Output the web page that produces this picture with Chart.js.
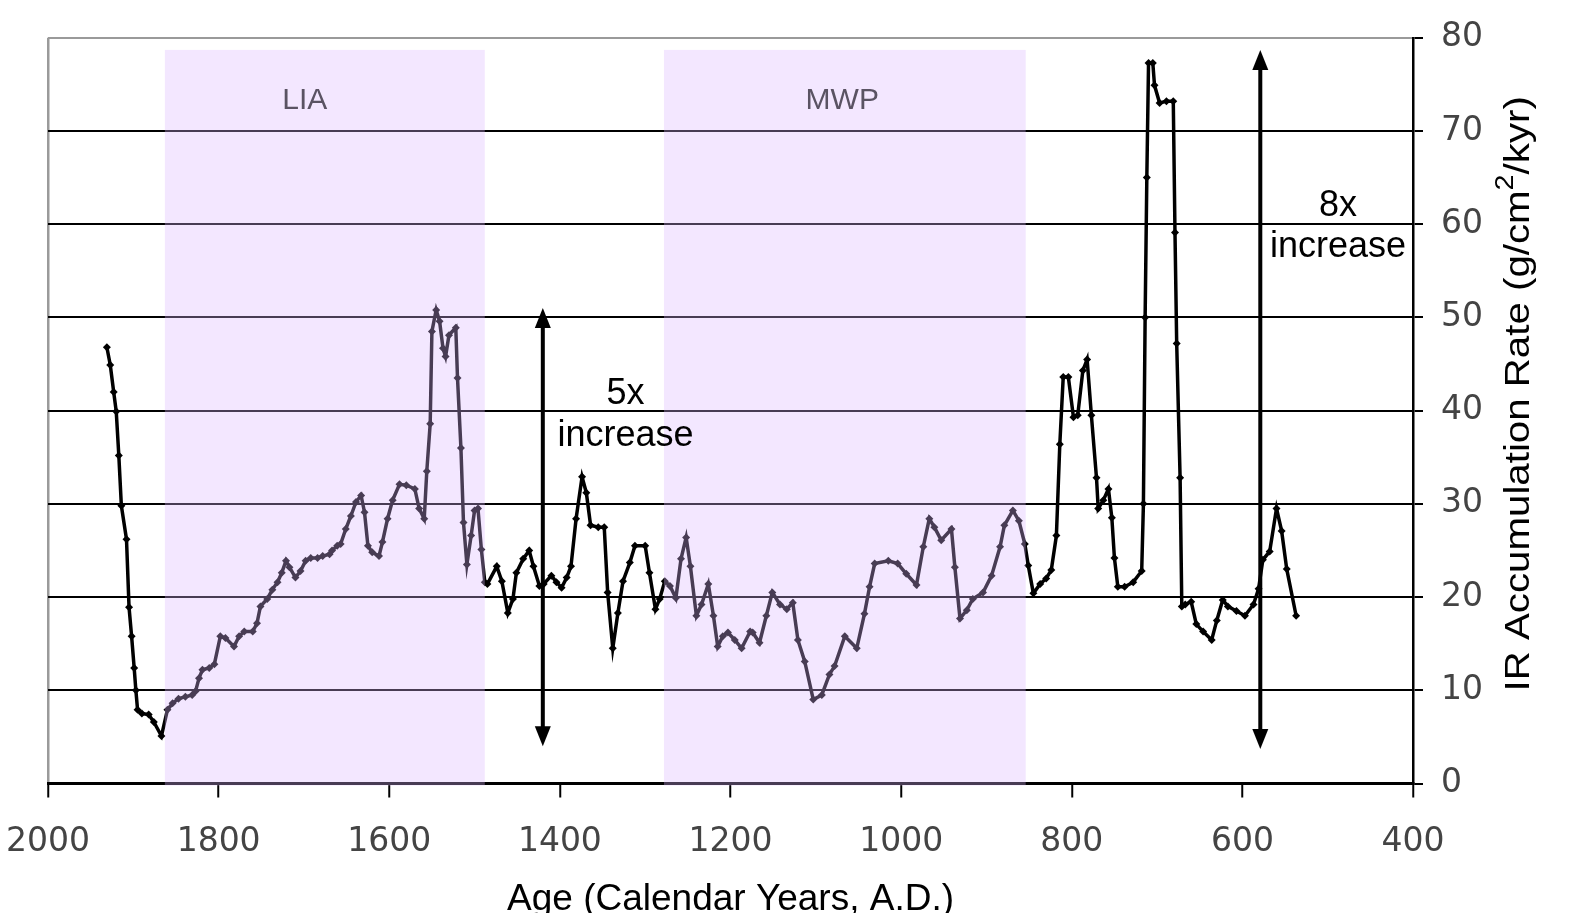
<!DOCTYPE html>
<html>
<head>
<meta charset="utf-8">
<script src="https://cdn.jsdelivr.net/npm/chart.js@4.4.1/dist/chart.umd.min.js"></script>
<style>
  html, body { margin: 0; padding: 0; background: #fff; }
</style>
</head>
<body>
<canvas id="myChart" width="1577" height="913"></canvas>
<script>
// IR accumulation rate vs calendar age
const years = [
  1931, 1927, 1923, 1920, 1917, 1914, 1908, 1905, 1902, 1899, 1897, 1895, 1890, 1882, 1876, 1867,
  1860, 1854, 1847, 1839, 1831, 1827, 1823, 1819, 1811, 1805, 1798, 1792, 1782, 1776, 1770, 1760,
  1755, 1751, 1743, 1737, 1731, 1726, 1721, 1717, 1710, 1704, 1698, 1692, 1684, 1678, 1670, 1667,
  1661, 1657, 1651, 1645, 1639, 1633, 1629, 1625, 1620, 1612, 1608, 1602, 1596, 1588, 1580, 1570,
  1565, 1559, 1556, 1552, 1550, 1545, 1541, 1537, 1534, 1530, 1522, 1520, 1516, 1513, 1509, 1504,
  1500, 1496, 1492, 1488, 1485, 1474, 1468, 1461, 1455, 1451, 1443, 1436, 1431, 1424, 1419, 1410,
  1404, 1398, 1392, 1387, 1381, 1374, 1369, 1364, 1355, 1348, 1344, 1338, 1332, 1326, 1318, 1312,
  1300, 1295, 1288, 1283, 1277, 1271, 1264, 1258, 1252, 1247, 1240, 1234, 1226, 1220, 1215, 1209,
  1203, 1195, 1187, 1177, 1174, 1166, 1158, 1151, 1142, 1134, 1127, 1121, 1113, 1103, 1093, 1084,
  1078, 1066, 1052, 1043, 1037, 1031, 1015, 1004, 994, 982, 974, 967, 961, 953, 941, 937,
  931, 923, 916, 904, 894, 884, 879, 869, 862, 855, 851, 845, 837, 830, 824, 818,
  814, 810, 804, 798, 793, 787, 782, 777, 771, 769, 763, 757, 753, 750, 746, 738,
  728, 718, 716, 714, 712, 710, 705, 703, 697, 689, 681, 679, 677, 673, 671, 667,
  660, 654, 646, 636, 630, 623, 617, 607, 597, 587, 581, 576, 568, 560, 554, 548, 537
];
const rates = [
  46.8, 44.9, 42.0, 39.9, 35.2, 29.8, 26.2, 18.9, 15.8, 12.4, 10.0, 7.9, 7.5, 7.4, 6.6, 5.1,
  7.9, 8.6, 9.1, 9.3, 9.5, 9.9, 11.3, 12.2, 12.4, 12.8, 15.8, 15.6, 14.7, 15.8, 16.3, 16.3,
  17.2, 19.0, 19.8, 20.8, 21.6, 22.6, 23.9, 23.2, 22.1, 22.8, 23.9, 24.2, 24.2, 24.4, 24.6, 25.0,
  25.5, 25.7, 27.3, 28.7, 30.2, 30.9, 29.1, 25.5, 24.8, 24.4, 25.9, 28.4, 30.4, 32.1, 32.0, 31.6,
  29.5, 28.4, 33.5, 38.6, 48.5, 50.8, 49.6, 46.7, 45.8, 48.1, 48.9, 43.5, 36.0, 28.0, 23.5, 26.6,
  29.3, 29.5, 25.1, 21.6, 21.4, 23.3, 21.7, 18.3, 19.8, 22.6, 24.1, 25.0, 23.3, 21.2, 21.4, 22.3,
  21.6, 21.0, 22.1, 23.3, 28.4, 32.9, 31.2, 27.7, 27.5, 27.5, 20.5, 14.5, 18.3, 21.7, 23.7, 25.5,
  25.5, 22.6, 18.7, 19.8, 21.7, 21.2, 19.9, 24.1, 26.4, 23.3, 18.0, 19.2, 21.4, 18.0, 14.7, 15.8,
  16.2, 15.4, 14.5, 16.3, 16.2, 15.1, 18.0, 20.5, 19.2, 18.7, 19.4, 15.4, 13.1, 9.0, 9.5, 11.7,
  12.6, 15.8, 14.5, 18.2, 21.1, 23.6, 23.9, 23.6, 22.5, 21.3, 25.4, 28.4, 27.5, 26.1, 27.3, 23.2,
  17.7, 18.6, 19.8, 20.5, 22.3, 25.4, 27.7, 29.3, 28.2, 25.7, 23.4, 20.4, 21.4, 22.0, 22.9, 26.6,
  36.4, 43.6, 43.6, 39.3, 39.5, 44.3, 45.5, 39.5, 32.8, 29.5, 30.4, 31.6, 28.5, 24.2, 21.1, 21.1,
  21.6, 22.8, 30.0, 50.0, 65.0, 77.3, 77.3, 74.9, 73.0, 73.2, 73.2, 59.1, 47.2, 32.8, 19.0, 19.2,
  19.5, 17.1, 16.3, 15.4, 17.5, 19.7, 19.0, 18.5, 18.0, 19.2, 20.9, 24.0, 24.9, 29.5, 27.1, 23.0, 18.0
];

// shaded climate periods (calendar years)
const periodNames = ['LIA', 'MWP'];
const periodFrom = [1863, 1278];
const periodTo = [1488, 854];
const periodTop = 78.7;
const periodLabelYear = [1699, 1069];
const periodLabelRate = 73.2;

// "Nx increase" arrows
const arrowYear = [1420, 579];
const arrowLow = [4.0, 3.7];
const arrowHigh = [51.0, 78.7];
const noteText = ['5x', '8x'];
const noteYear = [1323, 488];
const noteRate = [40.7, 60.9];
const noteRate2 = [36.2, 56.5];

const overlays = {
  id: 'overlays',
  afterDatasetsDraw(chart) {
    const ctx = chart.ctx;
    const x = chart.scales.x, y = chart.scales.y;
    ctx.save();
    // period shading sits on top of the line, tinting it
    ctx.fillStyle = 'rgba(218,182,255,0.33)';
    for (let i = 0; i < periodNames.length; i++) {
      const x1 = x.getPixelForValue(periodFrom[i]);
      const x2 = x.getPixelForValue(periodTo[i]);
      const top = y.getPixelForValue(periodTop);
      const bot = y.getPixelForValue(0) + 2;
      ctx.fillRect(x1, top, x2 - x1, bot - top);
    }
    ctx.fillStyle = '#5a5363';
    ctx.font = '30px "Liberation Sans"';
    ctx.textAlign = 'center';
    ctx.textBaseline = 'middle';
    for (let i = 0; i < periodNames.length; i++) {
      ctx.fillText(periodNames[i], x.getPixelForValue(periodLabelYear[i]), y.getPixelForValue(periodLabelRate));
    }

    // arrows
    ctx.strokeStyle = '#000';
    ctx.fillStyle = '#000';
    ctx.lineWidth = 4;
    for (let i = 0; i < arrowYear.length; i++) {
      const ax = x.getPixelForValue(arrowYear[i]);
      const yTop = y.getPixelForValue(arrowHigh[i]);
      const yBot = y.getPixelForValue(arrowLow[i]);
      ctx.beginPath();
      ctx.moveTo(ax, yTop + 14);
      ctx.lineTo(ax, yBot - 14);
      ctx.stroke();
      ctx.beginPath();
      ctx.moveTo(ax, yTop);
      ctx.lineTo(ax - 8, yTop + 20);
      ctx.lineTo(ax + 8, yTop + 20);
      ctx.closePath();
      ctx.fill();
      ctx.beginPath();
      ctx.moveTo(ax, yBot);
      ctx.lineTo(ax - 8, yBot - 20);
      ctx.lineTo(ax + 8, yBot - 20);
      ctx.closePath();
      ctx.fill();
    }
    ctx.font = '36px "Liberation Sans"';
    ctx.textBaseline = 'alphabetic';
    for (let i = 0; i < noteText.length; i++) {
      const nx = x.getPixelForValue(noteYear[i]);
      ctx.fillText(noteText[i], nx, y.getPixelForValue(noteRate[i]));
      ctx.fillText('increase', nx, y.getPixelForValue(noteRate2[i]));
    }
    ctx.restore();
  },
  afterDraw(chart) {
    // right-hand axis title reading bottom to top, with superscript
    const ctx = chart.ctx;
    const area = chart.chartArea;
    const part1 = 'IR Accumulation Rate (g/cm';
    const part2 = '/kyr)';
    ctx.save();
    ctx.translate(area.right + 106, area.top + 356);
    ctx.rotate(-Math.PI / 2);
    ctx.scale(1.15, 1);
    ctx.fillStyle = '#000';
    ctx.textBaseline = 'middle';
    ctx.textAlign = 'left';
    ctx.font = '35px "Liberation Sans"';
    const w1 = ctx.measureText(part1).width;
    const w3 = ctx.measureText(part2).width;
    ctx.font = '25px "Liberation Sans"';
    const w2 = ctx.measureText('2').width;
    let sx = -(w1 + w2 + w3) / 2;
    ctx.font = '35px "Liberation Sans"';
    ctx.fillText(part1, sx, 0);
    sx += w1;
    ctx.font = '25px "Liberation Sans"';
    ctx.fillText('2', sx, -13);
    sx += w2;
    ctx.font = '35px "Liberation Sans"';
    ctx.fillText(part2, sx, 0);
    ctx.restore();
  }
};

const ctx = document.getElementById('myChart');
new Chart(ctx, {
  type: 'line',
  data: {
    datasets: [{
      label: 'IR Accumulation Rate',
      data: years.map((yr, i) => ({ x: yr, y: rates[i] })),
      borderColor: '#000',
      backgroundColor: '#000',
      borderWidth: 3.5,
      pointStyle: 'rectRot',
      pointRadius: 4,
      pointBorderWidth: 0,
      pointBackgroundColor: '#000',
      tension: 0,
      fill: false
    }]
  },
  options: {
    responsive: false,
    animation: false,
    devicePixelRatio: 1,
    layout: { padding: { left: 48, right: 76, top: 36, bottom: 0 } },
    plugins: {
      legend: { display: false },
      tooltip: { enabled: false }
    },
    scales: {
      x: {
        type: 'linear',
        reverse: true,
        min: 400,
        max: 2000,
        ticks: {
          stepSize: 200,
          padding: 4,
          color: '#444',
          font: { family: 'DejaVu Sans', size: 33, lineHeight: 2.45 },
          maxRotation: 0,
          callback: v => String(v)
        },
        grid: {
          color: c => (c.tick && c.tick.value === 2000) ? '#9a9a9a' : 'rgba(0,0,0,0)',
          lineWidth: 2.5,
          drawTicks: true,
          tickLength: 14,
          tickColor: '#000',
          tickWidth: 2
        },
        border: { display: true, color: '#000', width: 3 },
        title: {
          display: true,
          text: 'Age (Calendar Years, A.D.)',
          color: '#000',
          font: { family: 'Liberation Sans', size: 37, lineHeight: 0.72 },
          padding: { top: 0, bottom: 0 }
        }
      },
      y: {
        position: 'right',
        min: 0,
        max: 80,
        ticks: {
          stepSize: 10,
          padding: 18,
          color: '#444',
          font: { family: 'DejaVu Sans', size: 33 }
        },
        grid: {
          color: c => (c.tick && c.tick.value === 80) ? '#9a9a9a' : '#000',
          lineWidth: 2,
          tickLength: 10,
          tickColor: '#000',
          tickWidth: 2
        },
        border: { display: true, color: '#000', width: 2.5 }
      }
    }
  },
  plugins: [overlays]
});
</script>
</body>
</html>
